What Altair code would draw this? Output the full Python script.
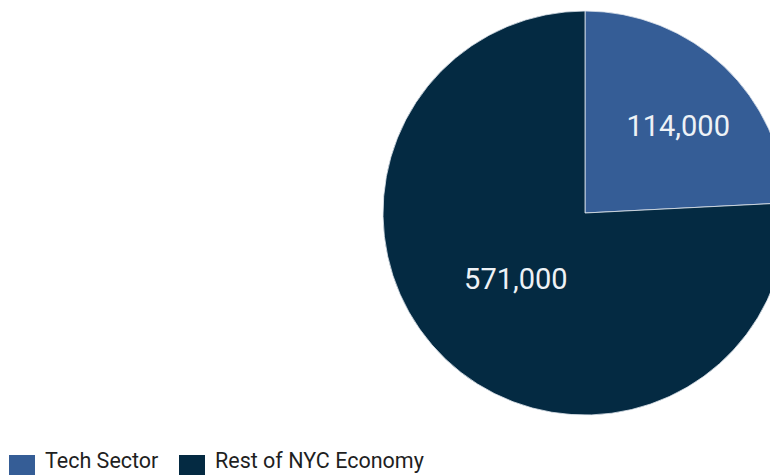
import altair as alt
import pandas as pd

categories = ["Tech Sector", "Rest of NYC Economy"]
jobs_labels = ["114,000", "571,000"]
# slice shares as drawn in the picture (percent of the circle)
slice_share = [24.2, 75.8]
colors = ["#355d96", "#042a42"]

df = pd.DataFrame({
    "category": categories,
    "label": jobs_labels,
    "share": slice_share,
    "order": list(range(len(categories))),
})

cx, cy, R = 577, 205, 202
theta_scale = alt.Scale(domain=[0, 100])

pie = alt.Chart(df).mark_arc(
    outerRadius=R, stroke="#dfe6ee", strokeWidth=0.8, clip=True
).encode(
    theta=alt.Theta("share:Q", stack=True, scale=theta_scale),
    order=alt.Order("order:Q"),
    x=alt.value(cx),
    y=alt.value(cy),
    color=alt.Color(
        "category:N",
        scale=alt.Scale(domain=categories, range=colors),
        sort=categories,
        legend=alt.Legend(
            title=None,
            orient="none",
            direction="horizontal",
            legendX=1,
            legendY=447,
            symbolType="square",
            symbolSize=676,
            symbolStrokeWidth=0,
            symbolOpacity=1,
            labelFont="Roboto",
            labelFontSize=21.5,
            labelColor="#1f1f1f",
            labelBaseline="alphabetic",
            labelOffset=10,
            labelLimit=400,
            columnPadding=20,
        ),
    ),
)

text_base = alt.Chart(df).transform_window(
    cum="sum(share)", sort=[alt.SortField("order")]
).transform_calculate(
    mid="datum.cum - datum.share / 2"
).encode(
    theta=alt.Theta("mid:Q", stack=None, scale=theta_scale),
    x=alt.value(cx),
    y=alt.value(cy),
    text="label:N",
)

lab_tech = text_base.transform_filter(alt.datum.order == 0).mark_text(
    radius=128, dx=5, dy=7, font="Roboto", fontSize=29, color="#eef2f6"
)
lab_rest = text_base.transform_filter(alt.datum.order == 1).mark_text(
    radius=96, dx=-3, dy=-3, font="Roboto", fontSize=29, color="#eef2f6"
)

chart = alt.layer(pie, lab_tech, lab_rest).properties(
    width=762, height=467, padding=0, autosize="none"
).configure_view(stroke=None)

chart.save("out.html", embed_options={"renderer": "svg", "actions": False})
